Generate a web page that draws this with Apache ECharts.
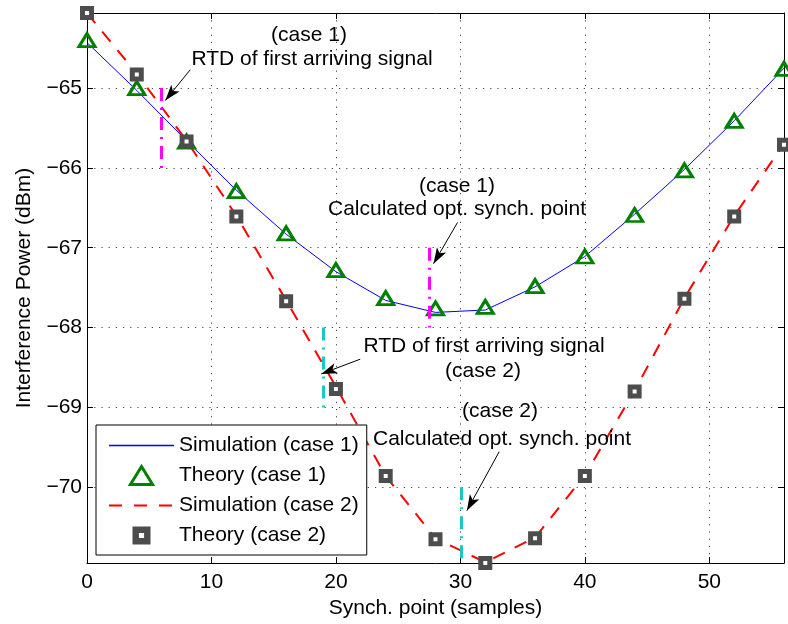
<!DOCTYPE html>
<html>
<head>
<meta charset="utf-8">
<script src="https://cdn.jsdelivr.net/npm/echarts@6/dist/echarts.min.js"></script>
<style>
  html, body { margin: 0; padding: 0; background: #fff; }
  #chart { width: 788px; height: 624px; }
</style>
</head>
<body>
<div id="chart"></div>
<script>
// Synchronisation points (samples) at which both cases are evaluated
const synchPoints = [0, 4, 8, 12, 16, 20, 24, 28, 32, 36, 40, 44, 48, 52, 56];

// Interference power (dBm)
const simCase1    = [-64.43, -65.03, -65.66, -66.28, -66.83, -67.30, -67.66, -67.81, -67.78, -67.49, -67.11, -66.58, -66.02, -65.41, -64.75];
const theoryCase1 = [-64.40, -65.00, -65.67, -66.29, -66.82, -67.28, -67.63, -67.76, -67.74, -67.48, -67.11, -66.59, -66.03, -65.41, -64.76];
const simCase2    = [-64.06, -64.82, -65.66, -66.60, -67.66, -68.74, -69.86, -70.64, -70.94, -70.63, -69.85, -68.79, -67.63, -66.60, -65.70];
const theoryCase2 = [-64.06, -64.83, -65.67, -66.61, -67.67, -68.77, -69.86, -70.65, -70.95, -70.64, -69.86, -68.80, -67.64, -66.61, -65.71];

// Axis ranges / ticks
const xMin = 0, xMax = 56, xTickStep = 10;
const allValues = simCase1.concat(theoryCase1, simCase2, theoryCase2);
const yMin = Math.min(...allValues);
const yMax = Math.max(...allValues);

// Reference markers: round-trip delay of first arriving signal and calculated optimum
const rtdCase1 = 6,  optCase1 = 27.5;
const rtdCase2 = 19, optCase2 = 30.1;

const FONT = '"Liberation Sans", Arial, Helvetica, sans-serif';
const BLACK = '#000';
const BLUE = '#0000ff', RED = '#ff0000', GREEN = '#008000', GREY = '#4d4d4d';
const MAGENTA = '#ff00ff', CYAN = '#1cc6c6';

const pairs = (xs, ys) => xs.map((x, i) => [x, ys[i]]);
const tickText = v => {
  if (Math.abs(v - Math.round(v)) > 1e-6) return '';
  const r = Math.round(v);
  return r < 0 ? '\u2212' + Math.abs(r) : String(r);
};

const frameAxisLine = { show: true, onZero: false, lineStyle: { color: BLACK, width: 1 } };
const innerTicks = { show: true, inside: true, length: 6, lineStyle: { color: BLACK, width: 1 } };
const dotted = { show: true, lineStyle: { color: '#444', width: 1, type: [1.2, 6] } };

const dashDot = [13, 7, 2, 7];
const vMark = (x, y0, y1, color) => [
  { coord: [x, y0], symbol: 'none', lineStyle: { color: color, width: 3, type: dashDot } },
  { coord: [x, y1], symbol: 'none' }
];
const arrow = (from, to) => [
  { coord: from, symbol: 'none', lineStyle: { color: BLACK, width: 1, type: 'solid' } },
  { coord: to, symbol: 'arrow', symbolSize: [8, 16] }
];

const chart = echarts.init(document.getElementById('chart'), null, { renderer: 'canvas' });

const option = {
  animation: false,
  backgroundColor: '#fff',
  textStyle: { fontFamily: FONT },
  grid: { left: 87, right: 4, top: 13, bottom: 60 },
  xAxis: [
    {
      type: 'value', min: xMin, max: xMax, interval: xTickStep, position: 'bottom',
      axisLine: frameAxisLine, axisTick: innerTicks, splitLine: dotted,
      axisLabel: { margin: 9, fontSize: 21, color: BLACK, fontFamily: FONT, showMaxLabel: false },
      name: 'Synch. point (samples)', nameLocation: 'middle', nameGap: 32,
      nameTextStyle: { fontSize: 21, color: BLACK, fontFamily: FONT }
    },
    {
      type: 'value', min: xMin, max: xMax, interval: xTickStep, position: 'top',
      axisLine: frameAxisLine, axisTick: innerTicks,
      axisLabel: { show: false }, splitLine: { show: false }
    }
  ],
  yAxis: [
    {
      type: 'value', min: yMin, max: yMax, splitNumber: 7, position: 'left',
      axisLine: frameAxisLine, axisTick: innerTicks, splitLine: dotted,
      axisLabel: { margin: 5, fontSize: 21, color: BLACK, fontFamily: FONT,
                   showMinLabel: false, showMaxLabel: false, formatter: tickText },
      name: 'Interference Power (dBm)', nameLocation: 'middle', nameGap: 52,
      nameTextStyle: { fontSize: 21, color: BLACK, fontFamily: FONT }
    },
    {
      type: 'value', min: yMin, max: yMax, splitNumber: 7, position: 'right',
      axisLine: frameAxisLine, axisTick: innerTicks,
      axisLabel: { show: false }, splitLine: { show: false }
    }
  ],
  legend: {
    orient: 'vertical', left: 96, top: 425,
    itemWidth: 65, itemHeight: 18, itemGap: 9,
    padding: [10, 8, 9, 12],
    borderColor: BLACK, borderWidth: 1, backgroundColor: '#fff',
    selectedMode: false,
    textStyle: { fontSize: 21, color: BLACK, fontFamily: FONT },
    data: [
      { name: 'Simulation (case 1)', icon: 'path://M0,0H65V1.4H0Z',
        itemStyle: { color: BLUE, borderWidth: 0 } },
      { name: 'Theory (case 1)', icon: 'path://M8,0L16,13H0Z',
        itemStyle: { color: 'rgba(0,0,0,0)', borderColor: GREEN, borderWidth: 3 } },
      { name: 'Simulation (case 2)', itemStyle: { opacity: 0 },
        lineStyle: { width: 2, color: RED, type: [13, 12] } },
      { name: 'Theory (case 2)', icon: 'path://M0,0H14V14H0Z M5,5V9H9V5Z',
        itemStyle: { color: GREY, borderWidth: 0 } }
    ]
  },
  series: [
    {
      name: 'Simulation (case 1)', type: 'line', data: pairs(synchPoints, simCase1),
      symbol: 'none', z: 2,
      lineStyle: { color: BLUE, width: 1 }, itemStyle: { color: BLUE },
      markLine: {
        silent: true, animation: false, z: 6,
        label: { show: false },
        emphasis: { disabled: true },
        data: [
          vMark(rtdCase1, -65, -66, MAGENTA),
          vMark(optCase1, -67, -68, MAGENTA),
          vMark(rtdCase2, -68, -69, CYAN),
          vMark(optCase2, -70, yMin, CYAN),
          arrow([8.30, -64.77], [6.29, -65.155]),
          arrow([29.77, -66.684], [27.84, -67.20]),
          arrow([21.95, -68.396], [18.82, -68.58]),
          arrow([33.12, -69.554], [30.52, -70.293])
        ]
      }
    },
    {
      name: 'Theory (case 1)', type: 'line', data: pairs(synchPoints, theoryCase1),
      symbol: 'triangle', symbolSize: [16, 13], clip: false, z: 3,
      lineStyle: { width: 0 },
      itemStyle: { color: 'rgba(0,0,0,0)', borderColor: GREEN, borderWidth: 3 }
    },
    {
      name: 'Simulation (case 2)', type: 'line', data: pairs(synchPoints, simCase2),
      symbol: 'none', z: 2,
      lineStyle: { color: RED, width: 2, type: [13, 11] }, itemStyle: { color: RED }
    },
    {
      name: 'Theory (case 2)', type: 'line', data: pairs(synchPoints, theoryCase2),
      symbol: 'rect', symbolSize: 9, clip: false, z: 4,
      lineStyle: { width: 0 },
      itemStyle: { color: '#fff', borderColor: GREY, borderWidth: 5 }
    }
  ],
  graphic: [
    ['(case 1)', 309, 35],
    ['RTD of first arriving signal', 312, 59],
    ['(case 1)', 457, 186],
    ['Calculated opt. synch. point', 457, 209],
    ['RTD of first arriving signal', 484, 346],
    ['(case 2)', 483, 371],
    ['(case 2)', 500, 411],
    ['Calculated opt. synch. point', 502, 439]
  ].map(([t, x, y]) => ({
    type: 'text', x: x, y: y, z: 10, silent: true,
    style: { text: t, font: '21px ' + FONT, fill: BLACK,
             textAlign: 'center', textVerticalAlign: 'middle',
             align: 'center', verticalAlign: 'middle' }
  }))
};

chart.setOption(option);
</script>
</body>
</html>
